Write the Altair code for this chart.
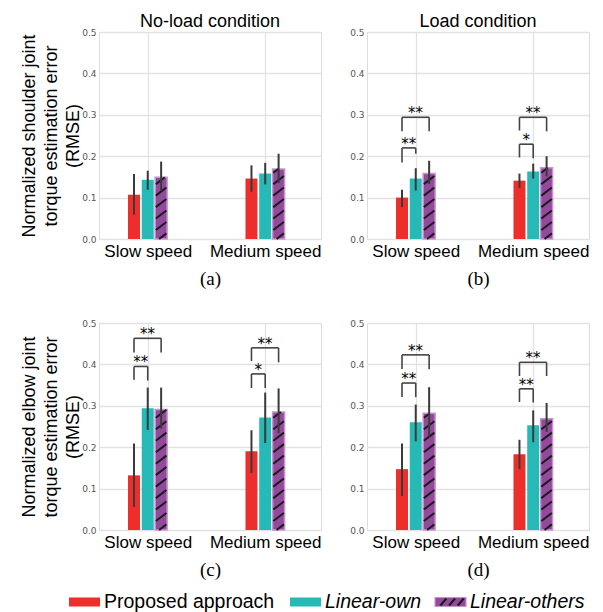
import altair as alt
import pandas as pd

# ---------------- data ----------------
SPEEDS = ["Slow speed", "Medium speed"]
METHODS = ["Proposed approach", "Linear-own", "Linear-others"]
COLORS = ["#EE2E2A", "#27B9B5", "#934A9C"]

# panel (a): shoulder, no-load   [speed][method]
A_MEAN = [[0.107, 0.143, 0.149], [0.146, 0.158, 0.169]]
A_LO = [[0.059, 0.119, 0.117], [0.114, 0.132, 0.135]]
A_HI = [[0.157, 0.165, 0.187], [0.178, 0.184, 0.206]]
# panel (b): shoulder, load
B_MEAN = [[0.100, 0.146, 0.158], [0.141, 0.163, 0.172]]
B_LO = [[0.077, 0.117, 0.133], [0.123, 0.146, 0.151]]
B_HI = [[0.119, 0.171, 0.189], [0.158, 0.182, 0.200]]
# panel (c): elbow, no-load
C_MEAN = [[0.132, 0.294, 0.291], [0.190, 0.272, 0.285]]
C_LO = [[0.056, 0.242, 0.245], [0.138, 0.210, 0.234]]
C_HI = [[0.209, 0.344, 0.344], [0.241, 0.332, 0.342]]
# panel (d): elbow, load
D_MEAN = [[0.147, 0.260, 0.282], [0.183, 0.253, 0.269]]
D_LO = [[0.082, 0.214, 0.226], [0.147, 0.212, 0.237]]
D_HI = [[0.209, 0.303, 0.345], [0.218, 0.289, 0.307]]

# significance brackets: (speed, compared method, top, left leg end, right leg end, label)
B_SIG = [(0, 1, 0.220, 0.185, 0.206, "**"), (0, 2, 0.294, 0.260, 0.260, "**"),
         (1, 1, 0.229, 0.197, 0.195, "*"), (1, 2, 0.294, 0.262, 0.260, "**")]
C_SIG = [(0, 1, 0.395, 0.363, 0.361, "**"), (0, 2, 0.463, 0.429, 0.429, "**"),
         (1, 1, 0.377, 0.343, 0.343, "*"), (1, 2, 0.440, 0.408, 0.405, "**")]
D_SIG = [(0, 1, 0.355, 0.321, 0.321, "**"), (0, 2, 0.423, 0.389, 0.388, "**"),
         (1, 1, 0.341, 0.309, 0.308, "**"), (1, 2, 0.405, 0.372, 0.372, "**")]

Y_TICKS = [0.0, 0.1, 0.2, 0.3, 0.4, 0.5]
YT_SHOULDER = ["Normalized shoulder joint", "torque estimation error", "(RMSE)"]
YT_ELBOW = ["Normalized elbow joint", "torque estimation error", "(RMSE)"]

# ---------------- layout / style constants ----------------
PW, PH = 222, 207
OFFSETS = [-0.117, 0.0, 0.114]
HALF = 0.051
X_DOMAIN = [-0.415, 1.475]
HATCH_HALF = 0.045
HATCH_STEP = 0.0277
HATCH_RISE = 0.0195
HATCH_PHASE = 0.006
SANS = "Liberation Sans"
SERIF = "Liberation Serif"

XS = alt.Scale(domain=X_DOMAIN, nice=False, zero=False)
YS = alt.Scale(domain=[0, 0.5], nice=False)


def bars_df(mean, lo, hi):
    rows = []
    for s in range(2):
        for m in range(3):
            p = s + OFFSETS[m]
            rows.append(dict(method=METHODS[m], pos=p, x=p - HALF, x2=p + HALF,
                             base=0.0, v=mean[s][m], lo=lo[s][m], hi=hi[s][m]))
    return pd.DataFrame(rows)


def hatch_df(mean):
    rows = []
    for s in range(2):
        v = mean[s][2]
        p = s + OFFSETS[2]
        xl, xr = p - HATCH_HALF, p + HATCH_HALF
        k = 0
        while True:
            ys = k * HATCH_STEP - HATCH_PHASE
            if ys >= v:
                break
            x0, y0, x1, y1 = xl, ys, xr, ys + HATCH_RISE
            if y0 < 0:
                t = (0 - ys) / HATCH_RISE
                x0, y0 = xl + t * (xr - xl), 0.0
            if y1 > v:
                t = (v - ys) / HATCH_RISE
                x1, y1 = xl + t * (xr - xl), v
            if y1 > y0:
                rows.append(dict(hx=x0, hx2=x1, hy=y0, hy2=y1))
            k += 1
    return pd.DataFrame(rows)


def sig_dfs(sig):
    segs, labs = [], []
    for s, tgt, top, lb, rb, lab in sig:
        xl = s + OFFSETS[0]
        xr = s + OFFSETS[tgt]
        segs.append(dict(sx=xl, sx2=xr, sy=top, sy2=top))
        segs.append(dict(sx=xl, sx2=xl, sy=lb, sy2=top))
        segs.append(dict(sx=xr, sx2=xr, sy=rb, sy2=top))
        labs.append(dict(tx=(xl + xr) / 2, ty=top, label=lab))
    return pd.DataFrame(segs), pd.DataFrame(labs)


def panel(mean, lo, hi, sig, title, ytitle, sub):
    xaxis = alt.Axis(values=[0, 1],
                     labelExpr="['%s','%s'][datum.value]" % (SPEEDS[0], SPEEDS[1]),
                     labelFont=SANS, labelFontSize=17, labelColor="black",
                     labelPadding=4, labelOverlap=False, labelFlush=False,
                     ticks=False, tickSize=0, domain=False,
                     grid=True, gridColor="#e2e2e2", gridWidth=1.3,
                     title=sub, titleFont=SERIF, titleFontSize=19,
                     titleFontWeight="normal", titleColor="black", titlePadding=10)
    yargs = dict(values=Y_TICKS, format=".1f", labelFont="DejaVu Sans",
                 labelFontSize=9, labelColor="#555555", labelPadding=3,
                 ticks=False, tickSize=0, domain=False,
                 grid=True, gridColor="#e2e2e2", gridWidth=1.3)
    if ytitle is not None:
        yaxis = alt.Axis(title=ytitle, titleFont=SANS, titleFontSize=18,
                         titleFontWeight="normal", titleColor="black",
                         titleLineHeight=22, titlePadding=-1, **yargs)
    else:
        yaxis = alt.Axis(title=None, **yargs)

    def X(f):
        return alt.X(f, scale=XS, axis=xaxis)

    def Y(f):
        return alt.Y(f, scale=YS, axis=yaxis)

    bdf = bars_df(mean, lo, hi)
    bars = alt.Chart(bdf).mark_bar(strokeWidth=1.5).encode(
        x=X("x:Q"), x2="x2:Q",
        y=Y("v:Q"), y2="base:Q",
        color=alt.Color("method:N", scale=alt.Scale(domain=METHODS, range=COLORS), legend=None),
        stroke=alt.condition(alt.datum.method == METHODS[2], alt.value("#C795CC"), alt.value("transparent")),
    )
    hatch = alt.Chart(hatch_df(mean)).mark_rule(color="#1b1b1b", strokeWidth=2).encode(
        x=X("hx:Q"), x2="hx2:Q", y=Y("hy:Q"), y2="hy2:Q",
    )
    err = alt.Chart(bdf).mark_rule(color="#3a3a3a", strokeWidth=2).encode(
        x=X("pos:Q"), y=Y("lo:Q"), y2="hi:Q",
    )
    layers = [bars, hatch, err]
    if sig:
        sdf, ldf = sig_dfs(sig)
        layers.append(alt.Chart(sdf).mark_rule(color="#444444", strokeWidth=1.6).encode(
            x=X("sx:Q"), x2="sx2:Q", y=Y("sy:Q"), y2="sy2:Q",
        ))
        layers.append(alt.Chart(ldf).mark_text(font="DejaVu Sans", fontSize=15, color="black",
                                               baseline="alphabetic", dy=1).encode(
            x=X("tx:Q"), y=Y("ty:Q"), text="label:N",
        ))
    props = dict(width=PW, height=PH)
    if title:
        props["title"] = alt.TitleParams(title, font=SANS, fontSize=18, fontWeight="normal",
                                         color="black", offset=-3, frame="group", anchor="middle")
    return alt.layer(*layers).properties(**props)


pa = panel(A_MEAN, A_LO, A_HI, [], "No-load condition", YT_SHOULDER, "(a)")
pb = panel(B_MEAN, B_LO, B_HI, B_SIG, "Load condition", None, "(b)")
pc = panel(C_MEAN, C_LO, C_HI, C_SIG, "", YT_ELBOW, "(c)")
pd_ = panel(D_MEAN, D_LO, D_HI, D_SIG, "", None, "(d)")

# ---------------- custom legend ----------------
# the legend view's origin sits under the left edge of panel (a)'s plot area
LEG_ORIGIN = 99
LW, LH = 488, 20
LEG_SWATCH_PAGE_X = [69, 290, 435]
SW_W = 31
LEG_TEXT_GAP = 35
LEG_HATCH_FRAC = [0.27, 0.55, 0.83]

sx = [x - LEG_ORIGIN for x in LEG_SWATCH_PAGE_X]
leg = pd.DataFrame({"method": METHODS,
                    "sx": sx,
                    "sx2": [x + SW_W for x in sx],
                    "tx": [x + LEG_TEXT_GAP for x in sx]})
lh = pd.DataFrame({"hx": [sx[2] + f * SW_W - 3 for f in LEG_HATCH_FRAC],
                   "hx2": [sx[2] + f * SW_W + 3 for f in LEG_HATCH_FRAC]})
LXS = alt.Scale(domain=[0, LW], range=[0, LW], nice=False, zero=False)
sw = alt.Chart(leg).mark_rect(strokeWidth=1.2).encode(
    x=alt.X("sx:Q", scale=LXS, axis=None), x2="sx2:Q",
    y=alt.value(LH / 2 - 4.5), y2=alt.value(LH / 2 + 4.5),
    color=alt.Color("method:N", scale=alt.Scale(domain=METHODS, range=COLORS), legend=None),
    stroke=alt.condition(alt.datum.method == METHODS[2], alt.value("#C795CC"), alt.value("transparent")),
)
swh = alt.Chart(lh).mark_rule(color="#1b1b1b", strokeWidth=2).encode(
    x=alt.X("hx:Q", scale=LXS, axis=None), x2="hx2:Q",
    y=alt.value(LH / 2 + 3.5), y2=alt.value(LH / 2 - 3.5),
)
t1 = alt.Chart(leg).transform_filter(alt.datum.method == METHODS[0]).mark_text(
    align="left", baseline="middle", font=SANS, fontSize=19.5, color="black").encode(
    x=alt.X("tx:Q", scale=LXS, axis=None), y=alt.value(LH / 2), text="method:N")
t2 = alt.Chart(leg).transform_filter(alt.datum.method != METHODS[0]).mark_text(
    align="left", baseline="middle", font=SANS, fontSize=19.5, fontStyle="italic", color="black").encode(
    x=alt.X("tx:Q", scale=LXS, axis=None), y=alt.value(LH / 2), text="method:N")
legend = alt.layer(sw, swh, t1, t2).properties(
    width=LW, height=LH, view=alt.ViewBackground(stroke="transparent"))

row1 = alt.hconcat(pa, pb, spacing=27)
row2 = alt.hconcat(pc, pd_, spacing=27)
grid = alt.vconcat(row1, row2, spacing=29)
chart = alt.vconcat(grid, legend, spacing=11).properties(
    padding={"left": 12, "right": 5, "top": 4, "bottom": 0}
).configure_view(stroke="#dcdcdc", strokeWidth=2).configure(background="white")

chart.save("out.html", embed_options={"renderer": "svg", "actions": False})
